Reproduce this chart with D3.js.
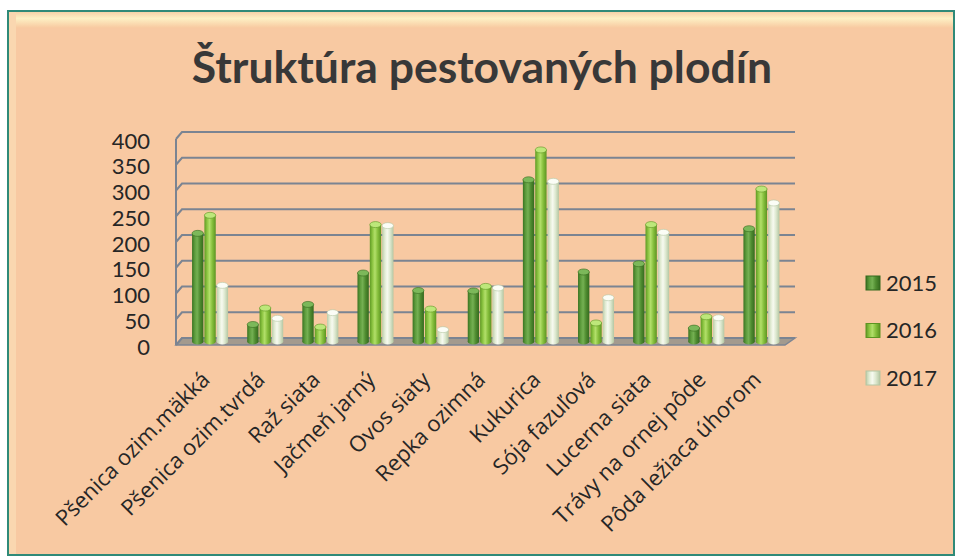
<!DOCTYPE html>
<html>
<head>
<meta charset="utf-8">
<script src="https://cdn.jsdelivr.net/npm/d3@7"></script>
<style>
  body { margin: 0; background: #fff; }
  svg { display: block; }
</style>
</head>
<body>
<div id="chart"></div>
<script>
var categories = ['Pšenica ozim.mäkká', 'Pšenica ozim.tvrdá', 'Raž siata', 'Jačmeň jarný', 'Ovos siaty',
    'Repka ozimná', 'Kukurica', 'Sója fazuľová', 'Lucerna siata', 'Trávy na ornej pôde', 'Pôda ležiaca úhorom'];
var years = ['2015', '2016', '2017'];
var v2015 = [210, 33, 72, 133, 99, 98, 314, 135, 151, 26, 219];
var v2016 = [245, 65, 28, 227, 63, 107, 372, 36, 227, 48, 296];
var v2017 = [109, 45, 56, 225, 23, 104, 311, 85, 212, 46, 269];
var yTicks = [0, 50, 100, 150, 200, 250, 300, 350, 400];

var series = [v2015, v2016, v2017];
var font = 'Lato, "Open Sans", sans-serif';
var labelFont = '"Open Sans", Lato, sans-serif';

var width = 958, height = 559;
var svg = d3.select('#chart').append('svg')
    .attr('width', width)
    .attr('height', height);

var defs = svg.append('defs');

// cylinder shading per year
var shades = {
    '2015': ['#3a7322', '#5f9e3e', '#74b052', '#4f8c30', '#356a1e'],
    '2016': ['#5f9a24', '#8fc744', '#b2df6a', '#86bf3c', '#5c9422'],
    '2017': ['#bccdaa', '#e2ecd4', '#f7faf0', '#dde8cf', '#b4c6a2']
};
var caps = { '2015': '#7cb85a', '2016': '#bde77a', '2017': '#fbfdf6' };
years.forEach(function(yr) {
    var g = defs.append('linearGradient')
        .attr('id', 'cyl' + yr)
        .attr('x1', 0).attr('x2', 1).attr('y1', 0).attr('y2', 0);
    [0, 0.25, 0.45, 0.7, 1].forEach(function(o, i) {
        g.append('stop').attr('offset', o).attr('stop-color', shades[yr][i]);
    });
});

var topBevel = defs.append('linearGradient')
    .attr('id', 'topBevel').attr('x1', 0).attr('x2', 0).attr('y1', 0).attr('y2', 1);
topBevel.append('stop').attr('offset', 0).attr('stop-color', '#f6d2a8');
topBevel.append('stop').attr('offset', 0.4).attr('stop-color', '#fdf0c4');
topBevel.append('stop').attr('offset', 1).attr('stop-color', '#f8c9a0');

// background panel
svg.append('rect')
    .attr('x', 8).attr('y', 11)
    .attr('width', 946).attr('height', 544)
    .attr('fill', '#f8c9a2');
svg.append('rect')
    .attr('x', 9).attr('y', 12)
    .attr('width', 944).attr('height', 16)
    .attr('fill', 'url(#topBevel)');
svg.append('rect')
    .attr('x', 9).attr('y', 12)
    .attr('width', 7).attr('height', 542)
    .attr('fill', '#fad7b0');
svg.append('rect')
    .attr('x', 8).attr('y', 11)
    .attr('width', 946).attr('height', 544)
    .attr('fill', 'none')
    .attr('stroke', '#2f8a78')
    .attr('stroke-width', 2);

// title
svg.append('text')
    .attr('x', 482).attr('y', 83)
    .attr('text-anchor', 'middle')
    .attr('font-family', font)
    .attr('font-weight', 'bold')
    .attr('font-size', 44.5)
    .attr('fill', '#383838')
    .text('Štruktúra pestovaných plodín');

// scales (front plane), depth offset to the back wall
var dx = 6, dy = -7;
var y = d3.scaleLinear().domain([0, 400]).range([345, 139]);
var x = d3.scaleBand().domain(categories).range([179.5, 786]);
var inner = d3.scaleBand().domain(years).range([-18.5, 18.5]);

var frontLeft = 176, frontRight = 785, backRight = 795;

// floor
svg.append('path')
    .attr('d', 'M' + frontLeft + ',' + y(0) + 'L' + frontRight + ',' + y(0) +
        'L' + backRight + ',' + (y(0) + dy) + 'L' + (frontLeft + dx) + ',' + (y(0) + dy) + 'Z')
    .attr('fill', '#a39a8e')
    .attr('stroke', '#7d8593')
    .attr('stroke-width', 1.5);

// gridlines on the side and back walls
svg.append('g').selectAll('path')
    .data(yTicks)
    .join('path')
    .attr('d', function(d) {
        return 'M' + frontLeft + ',' + y(d) + 'L' + (frontLeft + dx) + ',' + (y(d) + dy) +
            'L' + backRight + ',' + (y(d) + dy);
    })
    .attr('fill', 'none')
    .attr('stroke', '#7b8492')
    .attr('stroke-width', 2);

svg.append('line')
    .attr('x1', frontLeft).attr('x2', frontLeft)
    .attr('y1', y(0)).attr('y2', y(400))
    .attr('stroke', '#7b8492')
    .attr('stroke-width', 2);

// y axis labels
var yAxis = svg.append('g')
    .attr('transform', 'translate(' + frontLeft + ',2)')
    .call(d3.axisLeft(y).tickValues(yTicks).tickSize(0).tickPadding(26));
yAxis.select('.domain').remove();
yAxis.selectAll('text')
    .attr('font-family', font)
    .attr('font-size', 22)
    .attr('fill', '#262626');

// bars as cylinders, placed mid-depth
var bx = dx / 2, by = dy / 2;
var groups = svg.append('g').selectAll('g')
    .data(categories)
    .join('g')
    .attr('transform', function(d) { return 'translate(' + (x(d) + x.bandwidth() / 2 + bx) + ',' + by + ')'; });

groups.each(function(cat, ci) {
    var g = d3.select(this);
    years.forEach(function(yr, si) {
        var v = series[si][ci];
        var x0 = inner(yr) + 0.5, w = inner.bandwidth() - 1;
        var ry = 3;
        g.append('ellipse')
            .attr('cx', x0 + w / 2).attr('cy', y(0))
            .attr('rx', w / 2).attr('ry', ry)
            .attr('fill', 'url(#cyl' + yr + ')');
        g.append('rect')
            .attr('x', x0).attr('y', y(v))
            .attr('width', w).attr('height', y(0) - y(v))
            .attr('fill', 'url(#cyl' + yr + ')');
        g.append('ellipse')
            .attr('cx', x0 + w / 2).attr('cy', y(v))
            .attr('rx', w / 2).attr('ry', ry)
            .attr('fill', caps[yr])
            .attr('stroke', shades[yr][4])
            .attr('stroke-width', 0.6);
    });
});

// category labels
svg.append('g').selectAll('text')
    .data(categories)
    .join('text')
    .attr('transform', function(d) { return 'translate(' + (x(d) + x.bandwidth() / 2 + 4) + ',381) rotate(-45)'; })
    .attr('text-anchor', 'end')
    .attr('font-family', labelFont)
    .attr('font-size', 22)
    .attr('fill', '#262626')
    .text(function(d) { return d; });

// legend
var legend = svg.append('g').selectAll('g')
    .data(years)
    .join('g')
    .attr('transform', function(d, i) { return 'translate(866,' + (283 + i * 47.5) + ')'; });
legend.append('rect')
    .attr('x', 0).attr('y', -7)
    .attr('width', 14).attr('height', 14)
    .attr('fill', function(d) { return 'url(#cyl' + d + ')'; })
    .attr('stroke', function(d) { return shades[d][4]; })
    .attr('stroke-width', 1);
legend.append('text')
    .attr('x', 20).attr('y', 0)
    .attr('dy', '0.35em')
    .attr('font-family', font)
    .attr('font-size', 22)
    .attr('fill', '#262626')
    .text(function(d) { return d; });
</script>
</body>
</html>
